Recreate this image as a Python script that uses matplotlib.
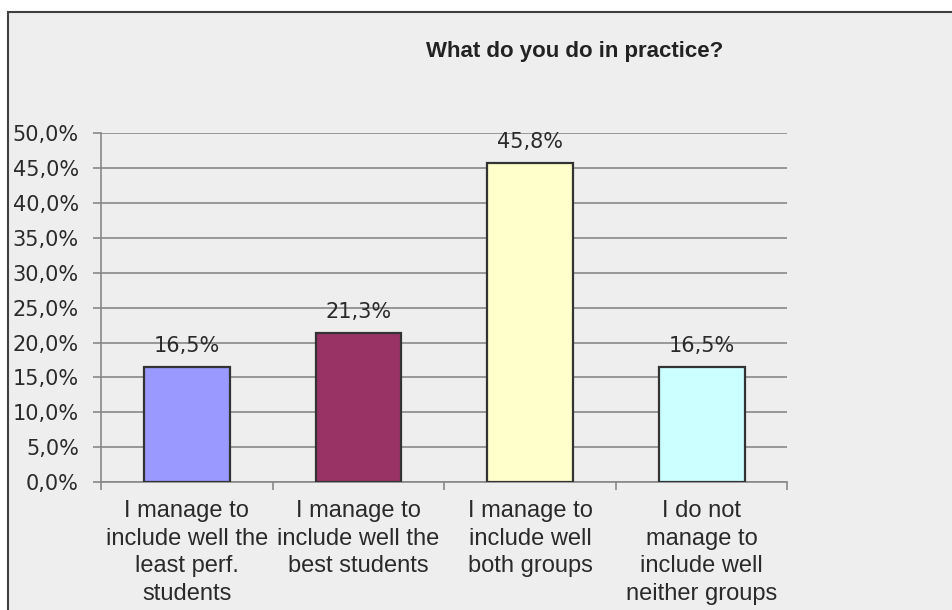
import matplotlib
matplotlib.use("Agg")
import matplotlib.pyplot as plt
from matplotlib.patches import Rectangle
from matplotlib.ticker import FuncFormatter, FixedLocator

# data
categories = [
    "I manage to\ninclude well the\nleast perf.\nstudents",
    "I manage to\ninclude well the\nbest students",
    "I manage to\ninclude well\nboth groups",
    "I do not\nmanage to\ninclude well\nneither groups",
]
shares = [16.5, 21.3, 45.8, 16.5]
bar_colors = ["#9999FF", "#993366", "#FFFFCC", "#CCFFFF"]
title = "What do you do in practice?"

plt.rcParams["font.family"] = ["Liberation Sans", "DejaVu Sans"]
TEXT = "#2a2a2a"
GRID = "#888888"
NUM_FONT = "DejaVu Sans"   # wider digits, closer to the reference numbers


def pct(v):
    return f"{v:.1f}".replace(".", ",") + "%"


def main() -> None:
    fig = plt.figure(figsize=(9.53, 6.10), dpi=100, facecolor="white")

    # grey chart area with a dark frame (only top/left edges show)
    fig.add_artist(Rectangle((8 / 953, -0.01), 1.0, (610 - 12) / 610 + 0.01,
                             transform=fig.transFigure, facecolor="#EEEEEE",
                             edgecolor="#404040", lw=1.5, zorder=-10))

    ax = fig.add_axes([101 / 953, 128 / 610, (787.5 - 101) / 953, (482 - 133.3) / 610])
    ax.set_facecolor("none")

    x = list(range(len(shares)))
    ax.bar(x, shares, width=0.5, color=bar_colors, edgecolor="#333333",
           linewidth=1.6, zorder=3)
    for xi, v in zip(x, shares):
        ax.text(xi, v + 2.15, pct(v), ha="center", va="baseline",
                fontsize=15, family=NUM_FONT, color=TEXT, zorder=4)

    ax.set_xlim(-0.5, len(shares) - 0.5)
    ax.set_ylim(0, 50)
    ax.set_yticks(range(0, 51, 5))
    ax.yaxis.set_major_formatter(FuncFormatter(lambda v, _: pct(v)))
    ax.grid(axis="y", color=GRID, lw=1.2, zorder=1)
    ax.set_axisbelow(True)

    ax.set_xticks(x)
    ax.set_xticklabels(categories, fontsize=17, color=TEXT, linespacing=1.33)
    ax.xaxis.set_minor_locator(FixedLocator([i - 0.5 for i in range(len(shares) + 1)]))
    ax.tick_params(axis="x", which="major", length=0, pad=13)
    ax.tick_params(axis="x", which="minor", length=6, color=GRID, width=1.2)
    ax.tick_params(axis="y", length=6, color=GRID, width=1.2, pad=10,
                   labelsize=15, labelcolor=TEXT)
    for lbl in ax.get_yticklabels():
        lbl.set_family(NUM_FONT)

    for side in ("top", "right"):
        ax.spines[side].set_visible(False)
    for side in ("left", "bottom"):
        ax.spines[side].set_color(GRID)
        ax.spines[side].set_linewidth(1.2)

    fig.text(575 / 953, 1 - 52 / 610, title, ha="center", va="center",
             fontsize=16, fontweight="bold", color="#222222")

    fig.savefig("out.png", dpi=100, facecolor=fig.get_facecolor())
    plt.close(fig)


if __name__ == "__main__":
    main()
